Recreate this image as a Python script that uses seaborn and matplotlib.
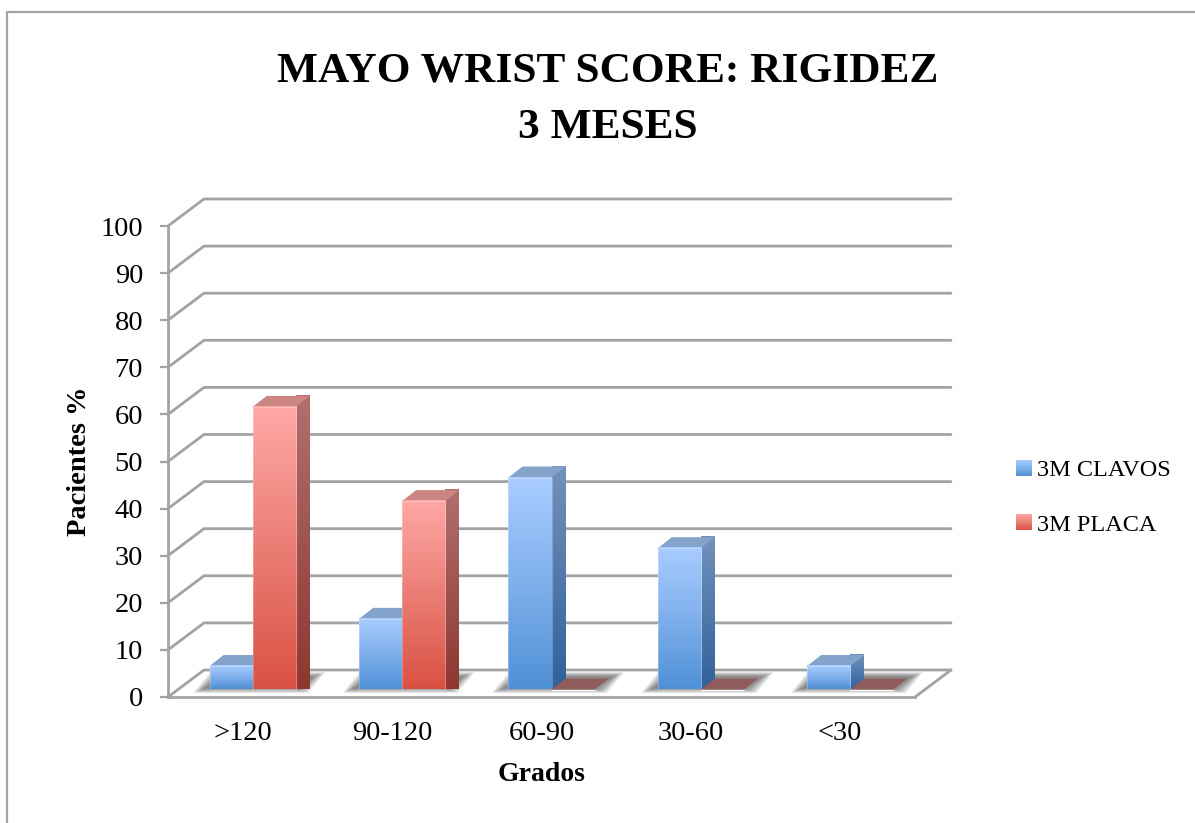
import numpy as np
import pandas as pd
import matplotlib
matplotlib.use("Agg")
import matplotlib.pyplot as plt
from matplotlib.colors import LinearSegmentedColormap
from matplotlib.lines import Line2D
from matplotlib.patches import Polygon
from matplotlib.transforms import Affine2D, IdentityTransform
import seaborn as sns

categories = [">120", "90-120", "60-90", "30-60", "<30"]
clavos = [5, 15, 45, 30, 5]
placa = [60, 40, 0, 0, 0]
series_names = ["3M CLAVOS", "3M PLACA"]
y_ticks = list(range(0, 101, 10))
title_text = "MAYO WRIST SCORE: RIGIDEZ\n3 MESES"
y_label = "Pacientes %"
x_label = "Grados"

W, H = 1195, 823
GREY = "#a3a3a3"
AX_L, AX_R, AX_T, AX_B = 168, 915, 226, 697
WALL_DX, WALL_DY = 36, 27
BAR_DX, BAR_DY = 10.0, 7.5
DEPTH_DX, DEPTH_DY = 14, 11

FRONT = {series_names[0]: ["#a9ccff", "#7fb0ec", "#4f90d6"],
         series_names[1]: ["#ffa8a5", "#ea7d75", "#da5143"]}
SIDE = {series_names[0]: ["#7391bb", "#30619b"],
        series_names[1]: ["#b07070", "#8e3730"]}
TOP = {series_names[0]: "#84a3cb", series_names[1]: "#cb8583"}
FLAT = {series_names[0]: "#84a3cb", series_names[1]: "#8f5b5b"}

sns.set_theme(style="white")
plt.rcParams["font.family"] = ["Liberation Serif", "DejaVu Serif"]

df = pd.DataFrame({
    "Grados": categories * 2,
    "Pacientes": clavos + placa,
    "Serie": [series_names[0]] * len(categories) + [series_names[1]] * len(categories),
})

fig = plt.figure(figsize=(W / 100, H / 100), dpi=100, facecolor="white")
ax = fig.add_axes([AX_L / W, 1 - AX_B / H, (AX_R - AX_L) / W, (AX_B - AX_T) / H])
palette = {k: v[1] for k, v in FRONT.items()}
sns.barplot(data=df, x="Grados", y="Pacientes", hue="Serie", order=categories,
            hue_order=series_names, palette=palette, width=0.576, saturation=1,
            legend=False, ax=ax)
ax.set_xlim(-0.5, len(categories) - 0.5)
ax.set_ylim(0, 100)
ax.set_yticks(y_ticks)
ax.set_facecolor("none")
for s in ("top", "right"):
    ax.spines[s].set_visible(False)
for s in ("left", "bottom"):
    ax.spines[s].set_color(GREY)
    ax.spines[s].set_linewidth(2.0)
ax.tick_params(axis="y", length=6, width=1.6, color=GREY, pad=12, labelsize=20.5, labelcolor="black", left=True)
ax.tick_params(axis="x", length=0, pad=17, labelsize=20.5, labelcolor="black")
ax.set_xlabel(x_label, fontsize=20, fontweight="bold", color="black", labelpad=12)
ax.set_ylabel(y_label, fontsize=20.5, fontweight="bold", color="black", labelpad=6)

# walls: every gridline is derived from the y axis scale
to_px = ax.transData
fig.canvas.draw()
wall = to_px + Affine2D().translate(WALL_DX, WALL_DY)
xl, xr = ax.get_xlim()
for v in y_ticks:
    p0 = to_px.transform((xl, v))
    p1 = wall.transform((xl, v))
    p2 = wall.transform((xr, v))
    ax.add_line(Line2D([p0[0], p1[0], p2[0]], [p0[1], p1[1], p2[1]], transform=IdentityTransform(),
                       color=GREY, lw=2.0, clip_on=False, zorder=1, solid_joinstyle="miter"))
p0 = to_px.transform((xr, 0))
p1 = wall.transform((xr, 0))
ax.add_line(Line2D([p0[0], p1[0]], [p0[1], p1[1]], transform=IdentityTransform(),
                   color=GREY, lw=2.0, clip_on=False, zorder=1))

bar_tf = ax.transData + Affine2D().translate(BAR_DX, BAR_DY)

def gradient_image(colors, box, clip=None, z=3):
    cmap = LinearSegmentedColormap.from_list("g", colors)
    g = np.linspace(0, 1, 256).reshape(-1, 1)
    im = ax.imshow(g, cmap=cmap, vmin=0, vmax=1, aspect="auto", origin="upper",
                   extent=(box[0], box[1], box[2], box[3]),
                   transform=IdentityTransform(), zorder=z, interpolation="bilinear")
    im.set_clip_on(False)
    if clip is not None:
        im.set_clip_path(clip)
    return im

leg = ax.legend(ax.containers, series_names, loc="upper left",
                bbox_to_anchor=(1016 / W, 1 - 460 / H), bbox_transform=fig.transFigure,
                frameon=False, fontsize=17.5, handlelength=0.62, handleheight=0.62,
                handletextpad=0.26, labelspacing=1.35, borderpad=0, borderaxespad=0)
for t in leg.get_texts():
    t.set_color("black")

z = 3.0
n_cat = len(categories)
for i in range(n_cat):
    group = [c[i] for c in ax.containers]
    # soft floor shadow under the group
    pts = np.vstack([bar_tf.transform((b.get_x() + dx, 0)) for b in group
                     for dx in (0, b.get_width())])
    x0, x1 = pts[:, 0].min(), pts[:, 0].max()
    y0 = pts[:, 1].min()
    for grow in np.linspace(11, 0, 23):
        ax.add_patch(Polygon([(x0 - 6 - grow, y0 + 1 - grow * 0.42), (x1 + 2 + grow, y0 + 1 - grow * 0.42),
                              (x1 + 19 + grow, y0 + 13 + grow * 0.42), (x0 + 11 - grow, y0 + 13 + grow * 0.42)],
                             transform=IdentityTransform(), facecolor="#404040", edgecolor="none",
                             alpha=0.035, clip_on=False, zorder=2))
    for name, bar in zip(series_names, group):
        (px0, py0) = bar_tf.transform((bar.get_x(), 0))
        (px1, py1) = bar_tf.transform((bar.get_x() + bar.get_width(), bar.get_height()))
        bar.set_transform(bar_tf)
        bar.set_clip_on(False)
        bar.set_zorder(z)
        if bar.get_height() <= 0:
            ax.add_patch(Polygon([(px0, py0), (px1, py0), (px1 + DEPTH_DX, py0 + DEPTH_DY), (px0 + DEPTH_DX, py0 + DEPTH_DY)],
                                 transform=IdentityTransform(), facecolor=FLAT[name], edgecolor="none",
                                 clip_on=False, zorder=z))
            z += 1
            continue
        bar.set_facecolor("none")
        bar.set_edgecolor((1, 1, 1, 0.25))
        bar.set_linewidth(0.8)
        bar.set_zorder(z + 0.5)
        side = Polygon([(px1, py0), (px1 + DEPTH_DX, py0 + DEPTH_DY), (px1 + DEPTH_DX, py1 + DEPTH_DY), (px1, py1)],
                       transform=IdentityTransform(), facecolor="none", edgecolor="none", clip_on=False, zorder=z)
        ax.add_patch(side)
        gradient_image(SIDE[name], (px1, px1 + DEPTH_DX, py0, py1 + DEPTH_DY), clip=side, z=z)
        ax.add_patch(Polygon([(px0, py1), (px1, py1), (px1 + DEPTH_DX, py1 + DEPTH_DY), (px0 + DEPTH_DX, py1 + DEPTH_DY)],
                             transform=IdentityTransform(), facecolor=TOP[name], edgecolor="none",
                             clip_on=False, zorder=z))
        gradient_image(FRONT[name], (px0, px1, py0, py1), z=z + 0.1)
        z += 1

ax.set_xlim(-0.5, n_cat - 0.5)
ax.set_ylim(0, 100)

# legend swatches get the same gradient as the bars
fig.canvas.draw()
for name, h in zip(series_names, leg.get_patches()):
    bb = h.get_window_extent()
    gradient_image(FRONT[name], (bb.x0, bb.x1, bb.y0, bb.y1), z=20)

fig.text(608 / W, 1 - 100 / H, title_text, ha="center", va="center", fontsize=31.2,
         fontweight="bold", color="black", linespacing=1.65)

# outer chart frame, open at the right and bottom image borders
fig.add_artist(Line2D([7 / W, 7 / W, 1], [0, 1 - 12 / H, 1 - 12 / H],
                      color="#a3a3a3", lw=1.6))

fig.savefig("out.png", dpi=100)
